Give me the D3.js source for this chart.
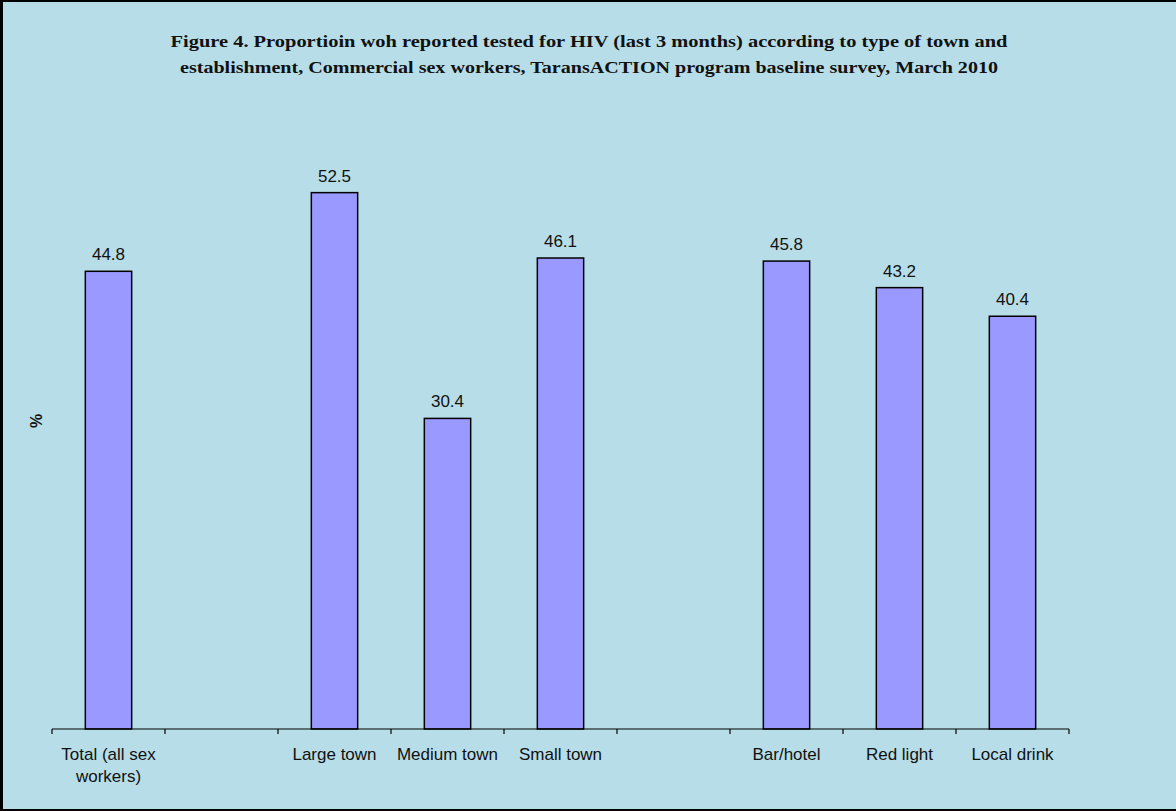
<!DOCTYPE html>
<html>
<head>
<meta charset="utf-8">
<script src="https://cdn.jsdelivr.net/npm/d3@7/dist/d3.min.js"></script>
<style>
  html, body { margin: 0; padding: 0; background: #b7dee8; }
  svg { display: block; }
</style>
</head>
<body>
<svg id="chart" width="1176" height="811"></svg>
<script>
// Categories (blank entries are spacer slots on the axis)
const categories = ["Total (all sex workers)", "", "Large town", "Medium town", "Small town", "", "Bar/hotel", "Red light", "Local drink"];
const values = [44.8, null, 52.5, 30.4, 46.1, null, 45.8, 43.2, 40.4];
const categoryLines = [["Total (all sex", "workers)"], [], ["Large town"], ["Medium town"], ["Small town"], [], ["Bar/hotel"], ["Red light"], ["Local drink"]];
const titleLines = [
  "Figure 4. Proportioin woh reported tested for HIV (last 3 months) according to type of town and",
  "establishment, Commercial sex workers, TaransACTION program baseline survey, March 2010"
];
const titleWidths = [837, 818];
const yLabel = "%";

const W = 1176, H = 811;
const svg = d3.select("#chart");

// background + frame (top, left, bottom)
svg.append("rect").attr("x", 0).attr("y", 0).attr("width", W).attr("height", H).attr("fill", "#b7dee8");
svg.append("line").attr("x1", 0).attr("x2", W).attr("y1", 1).attr("y2", 1).attr("stroke", "#000").attr("stroke-width", 2);
svg.append("line").attr("x1", 1.5).attr("x2", 1.5).attr("y1", 0).attr("y2", H).attr("stroke", "#000").attr("stroke-width", 3);
svg.append("line").attr("x1", 0).attr("x2", W).attr("y1", 810).attr("y2", 810).attr("stroke", "#000").attr("stroke-width", 2);

// title, two centred lines
titleLines.forEach((t, i) => {
  const node = svg.append("text")
    .attr("x", 589).attr("y", 47 + i * 26)
    .attr("text-anchor", "middle")
    .attr("font-family", "'Liberation Serif', serif")
    .attr("font-weight", "bold")
    .attr("font-size", 17.5)
    .attr("fill", "#111")
    .text(t);
  node.attr("textLength", titleWidths[i]).attr("lengthAdjust", "spacingAndGlyphs");
});

const plotLeft = 52, plotRight = 1069, plotTop = 116, plotBottom = 729;
const x = d3.scaleBand().domain(d3.range(categories.length)).range([plotLeft, plotRight]).paddingInner(0.59).paddingOuter(0.295);
const y = d3.scaleLinear().domain([0, 60]).range([plotBottom, plotTop]);

const idx = d3.range(categories.length).filter(i => values[i] !== null);

// bars
svg.append("g").selectAll("rect").data(idx).join("rect")
  .attr("x", i => x(i))
  .attr("y", i => y(values[i]))
  .attr("width", x.bandwidth())
  .attr("height", i => y(0) - y(values[i]))
  .attr("fill", "#9999ff")
  .attr("stroke", "#000")
  .attr("stroke-width", 1.5);

// value labels
svg.append("g").selectAll("text").data(idx).join("text")
  .attr("x", i => x(i) + x.bandwidth() / 2)
  .attr("y", i => y(values[i]) - 11)
  .attr("text-anchor", "middle")
  .attr("font-family", "'Liberation Sans', Arial, sans-serif")
  .attr("font-size", 17)
  .attr("fill", "#111")
  .text(i => values[i].toFixed(1));

// x axis: baseline plus ticks at slot boundaries
const step = (plotRight - plotLeft) / categories.length;
const axis = svg.append("g").attr("stroke", "#000").attr("stroke-width", 1.2);
axis.append("line").attr("x1", plotLeft).attr("x2", plotRight).attr("y1", plotBottom).attr("y2", plotBottom);
axis.selectAll("line.tick").data(d3.range(categories.length + 1)).join("line")
  .attr("class", "tick")
  .attr("x1", i => plotLeft + i * step).attr("x2", i => plotLeft + i * step)
  .attr("y1", plotBottom).attr("y2", plotBottom + 5);

// category labels
const lab = svg.append("g").selectAll("text").data(d3.range(categories.length)).join("text")
  .attr("text-anchor", "middle")
  .attr("font-family", "'Liberation Sans', Arial, sans-serif")
  .attr("font-size", 17)
  .attr("fill", "#111");
lab.each(function(i) {
  const t = d3.select(this);
  categoryLines[i].forEach((s, k) => {
    t.append("tspan").attr("x", x(i) + x.bandwidth() / 2).attr("y", 760 + k * 22).text(s);
  });
});

// y axis label
svg.append("text")
  .attr("transform", "translate(42,421) rotate(-90)")
  .attr("text-anchor", "middle")
  .attr("font-family", "'Liberation Sans', Arial, sans-serif")
  .attr("font-weight", "bold")
  .attr("font-size", 16)
  .attr("fill", "#111")
  .text(yLabel);
</script>
</body>
</html>
